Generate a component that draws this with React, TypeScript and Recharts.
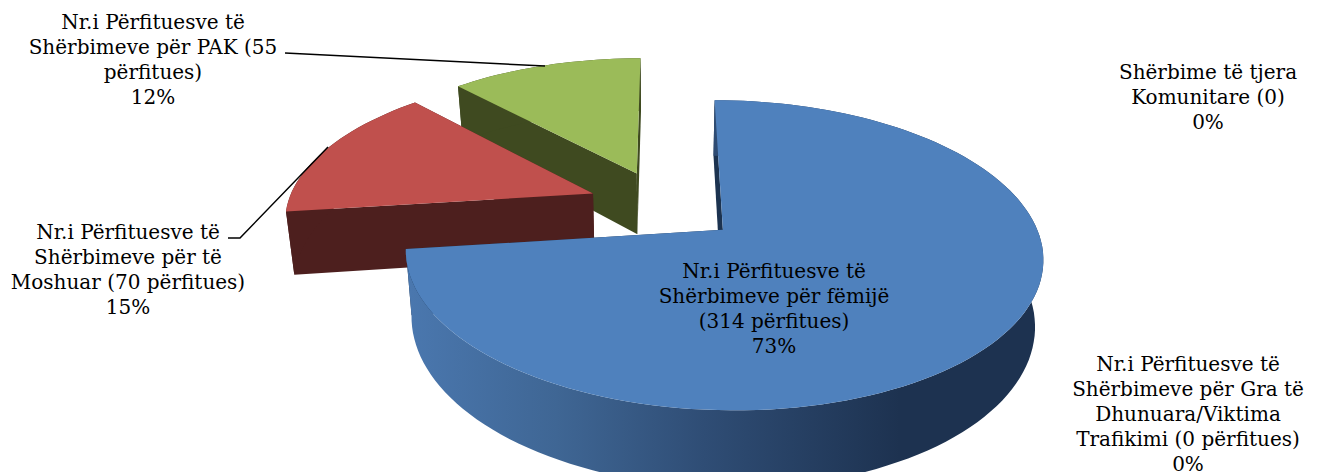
import { PieChart, Pie } from 'recharts';

// drawing order runs anti-clockwise from 12 o'clock: green, red, blue
const categories = [
  ['Nr.i Përfituesve të', 'Shërbimeve për PAK (55', 'përfitues)'],
  ['Nr.i Përfituesve të', 'Shërbimeve për të', 'Moshuar (70 përfitues)'],
  ['Nr.i Përfituesve të', 'Shërbimeve për fëmijë', '(314 përfitues)'],
  ['Nr.i Përfituesve të', 'Shërbimeve për Gra të', 'Dhunuara/Viktima', 'Trafikimi (0 përfitues)'],
  ['Shërbime të tjera', 'Komunitare (0)'],
];
const shares = [12, 15, 73, 0, 0];
const topColors = ['#9bbb59', '#c0504d', '#4f81bd', '#8064a2', '#4bacc6'];
const wallColors = ['#3f4a20', '#4d1f1e', '#1c3350', '#000', '#000'];

const labelPos = [
  { x: 153, y: 22 },
  { x: 128, y: 232 },
  { x: 774, y: 271 },
  { x: 1188, y: 364 },
  { x: 1208, y: 72 },
];
const leaders: Record<number, string> = {
  0: '285,53 545,66',
  1: '228,238 240,238 328,147',
};

const data = shares.map((value, i) => ({ name: categories[i].join(' '), value }));

const TILT = 143 / 306; // ellipse squash
const PERSP = 0.16;
const EXPLODE = 0.25;
const DEPTH = 63;
const SHRINK = 0.978;
const rad = (d: number) => (d * Math.PI) / 180;

function Slice3D(props: any) {
  const { cx, cy, outerRadius: R, startAngle, endAngle, midAngle, index } = props;
  if (startAngle === endAngle) return null;
  const a0 = 90 - startAngle;
  const a1 = 90 - endAngle;
  const m = 90 - midAngle;
  const offU = EXPLODE * Math.sin(rad(m));
  const offV = -EXPLODE * Math.cos(rad(m));

  // ground plane -> screen
  const proj = (theta: number | null, low: boolean) => {
    const U = offU + (theta === null ? 0 : Math.sin(rad(theta)));
    const V = offV + (theta === null ? 0 : -Math.cos(rad(theta)));
    const s = 1 / (1 - PERSP * V);
    const x = R * U * s;
    const y = R * TILT * V * s;
    if (!low) return [cx + x, cy + y];
    return [cx + x * SHRINK, cy + y + DEPTH * s];
  };
  const pt = (p: number[]) => `${p[0].toFixed(1)},${p[1].toFixed(1)}`;
  const arc = (low: boolean) => {
    const out: string[] = [];
    const n = Math.max(8, Math.round(Math.abs(a1 - a0) / 2));
    for (let i = 0; i <= n; i++) out.push(pt(proj(a0 + ((a1 - a0) * i) / n, low)));
    return out;
  };
  const top = arc(false);
  const low = arc(true);
  const wall = (t: number) =>
    [proj(null, false), proj(t, false), proj(t, true), proj(null, true)].map(pt).join(' ');
  const rimFill = index === 2 ? 'url(#blueRim)' : wallColors[index];

  return (
    <g>
      <defs>
        <linearGradient id="blueRim" gradientUnits="userSpaceOnUse" x1="410" y1="0" x2="900" y2="0">
          <stop offset="0" stopColor="#4a77ae" />
          <stop offset="0.3" stopColor="#3f6694" />
          <stop offset="0.6" stopColor="#2f4d75" />
          <stop offset="1" stopColor="#1d3250" />
        </linearGradient>
      </defs>
      <polygon points={wall(a0)} fill={wallColors[index]} />
      <polygon points={wall(a1)} fill={wallColors[index]} />
      <polygon points={[...top, ...low.reverse()].join(' ')} fill={rimFill} />
      <polygon points={[pt(proj(null, false)), ...top].join(' ')} fill={topColors[index]} />
    </g>
  );
}

function SliceLabel(props: any) {
  const { index, value } = props;
  const { x, y } = labelPos[index];
  const lines = [...categories[index], `${value}%`];
  return (
    <g>
      {leaders[index] && (
        <polyline points={leaders[index]} fill="none" stroke="#000" strokeWidth={1.5} />
      )}
      <text x={x} y={y} textAnchor="middle" fontFamily="'DejaVu Serif', serif" fontSize={20} fill="#000">
        {lines.map((line, i) => (
          <tspan key={i} x={x} y={y + i * 25} dy="0.35em">
            {line}
          </tspan>
        ))}
      </text>
    </g>
  );
}

export default function App() {
  return (
    <div style={{ position: 'absolute', left: 0, top: 0, width: 1319, height: 472, background: '#fff' }}>
      <PieChart width={1319} height={472} margin={{ top: 0, right: 0, bottom: 0, left: 0 }}>
        <Pie
          data={data}
          dataKey="value"
          nameKey="name"
          cx={664}
          cy={205.5}
          outerRadius={306}
          startAngle={90}
          endAngle={450}
          stroke="none"
          shape={Slice3D}
          label={SliceLabel}
          labelLine={false}
          isAnimationActive={false}
        />
      </PieChart>
    </div>
  );
}
